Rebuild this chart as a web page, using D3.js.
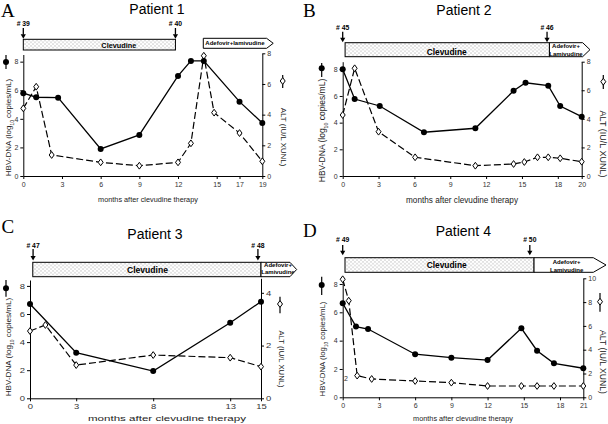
<!DOCTYPE html>
<html><head><meta charset="utf-8">
<script src="https://cdn.jsdelivr.net/npm/d3@7"></script>
<style>body{margin:0;background:#fff}svg{display:block}text{font-family:"Liberation Sans",Arial,sans-serif}</style>
</head><body>
<svg id="c" width="608" height="424"></svg>
<script>
// ---------------- data ----------------
const titles = ["Patient 1", "Patient 2", "Patient 3", "Patient 4"];
const letters = ["A", "B", "C", "D"];
const xLabel = "months after clevudine therapy";
const dnaLabel = ["HBV-DNA (log", "10", " copies/mL)"];
const altLabel = "ALT (IU/L XUNL)";
const drug1 = "Clevudine";
const drug2Short = ["Adefovir+lamivudine"];
const drug2Long = ["Adefovir+", "Lamivudine"];

// Patient 1
const p1DnaMonths = [0, 1, 2.7, 6, 9, 12, 13, 14, 17, 19];
const p1Dna = [5.79, 5.51, 5.48, 1.89, 2.87, 7.0, 8.05, 8.05, 5.2, 3.71];
const p1AltMonths = [0, 1, 2.2, 6, 9, 12, 13, 14, 14.8, 17, 19];
const p1Alt = [4.41, 5.82, 1.37, 0.89, 0.67, 0.89, 2.13, 7.84, 4.13, 2.8, 0.96];
const p1XTicks = [0, 3, 6, 9, 12, 15, 17, 19];
const p1DnaTicks = [0, 2, 4, 6, 8];
const p1AltTicks = [0, 2, 4, 6, 8];
const p1Samples = ["# 39", "# 40"];
const p1SampleMonths = [0, 11.8];
const p1Clevudine = [0, 11.8];
const p1Adefovir = [13.96, 19.38];

// Patient 2
const p2DnaMonths = [0, 1, 3.1, 6.8, 11.1, 14.3, 15.3, 17.2, 18.2, 20];
const p2Dna = [8.0, 5.77, 5.25, 3.28, 3.58, 6.39, 6.99, 6.77, 5.25, 4.45];
const p2AltMonths = [0, 1, 3, 6.06, 11.1, 14.3, 15.2, 16.3, 17.2, 18.2, 20];
const p2Alt = [4.27, 7.54, 3.1, 1.31, 0.72, 0.84, 0.98, 1.31, 1.31, 1.24, 1.0];
const p2XTicks = [0, 3, 6, 9, 12, 15, 18, 20];
const p2DnaTicks = [0, 2, 4, 6, 8];
const p2AltTicks = [0, 2, 4, 6, 8];
const p2Samples = ["# 45", "# 46"];
const p2SampleMonths = [0, 17.1];
const p2Clevudine = [0.2, 17.3];
const p2Adefovir = [17.3, 20.08];

// Patient 3
const p3DnaMonths = [0, 3, 8, 13, 15];
const p3Dna = [6.71, 3.25, 1.94, 5.38, 6.88];
const p3AltMonths = [0, 1, 3, 8, 13, 15];
const p3Alt = [2.55, 2.78, 1.26, 1.64, 1.54, 1.2];
const p3XTicks = [0, 3, 8, 13, 15];
const p3DnaTicks = [0, 2, 4, 6, 8];
const p3AltTicks = [0, 2, 4];
const p3Samples = ["# 47", "# 48"];
const p3SampleMonths = [0.2, 14.8];
const p3Clevudine = [0.18, 15];
const p3Adefovir = [15, 16.88];

// Patient 4
const p4DnaMonths = [0, 1.1, 2.1, 6, 9, 12, 14.8, 16.1, 17.5, 21];
const p4Dna = [6.64, 4.99, 4.82, 3.04, 2.8, 2.63, 4.87, 3.29, 2.4, 2.05];
const p4AltMonths = [0, 0.5, 1.2, 2.4, 6, 9, 12, 14.8, 16.1, 17.5, 21];
const p4Alt = [9.92, 8.12, 1.82, 1.54, 1.37, 1.23, 0.95, 0.95, 0.95, 0.95, 0.95];
const p4XTicks = [0, 3, 6, 9, 12, 15, 18, 21];
const p4DnaTicks = [0, 2, 4, 6, 8];
const p4AltTicks = [0, 2, 4, 6, 8, 10];
const p4Samples = ["# 49", "# 50"];
const p4SampleMonths = [0, 15.5];
const p4Clevudine = [0.19, 15.85];
const p4Adefovir = [15.85, 22.29];

// ---------------- assembly ----------------
const panelData = [
  {dnaM: p1DnaMonths, dna: p1Dna, altM: p1AltMonths, alt: p1Alt, xt: p1XTicks, yl: p1DnaTicks, yr: p1AltTicks, samples: p1Samples, sampleM: p1SampleMonths, clev: p1Clevudine, adef: p1Adefovir, adefText: drug2Short},
  {dnaM: p2DnaMonths, dna: p2Dna, altM: p2AltMonths, alt: p2Alt, xt: p2XTicks, yl: p2DnaTicks, yr: p2AltTicks, samples: p2Samples, sampleM: p2SampleMonths, clev: p2Clevudine, adef: p2Adefovir, adefText: drug2Long},
  {dnaM: p3DnaMonths, dna: p3Dna, altM: p3AltMonths, alt: p3Alt, xt: p3XTicks, yl: p3DnaTicks, yr: p3AltTicks, samples: p3Samples, sampleM: p3SampleMonths, clev: p3Clevudine, adef: p3Adefovir, adefText: drug2Long},
  {dnaM: p4DnaMonths, dna: p4Dna, altM: p4AltMonths, alt: p4Alt, xt: p4XTicks, yl: p4DnaTicks, yr: p4AltTicks, samples: p4Samples, sampleM: p4SampleMonths, clev: p4Clevudine, adef: p4Adefovir, adefText: drug2Long}
];

// layout (pixels)
const layouts = [
  {xd: [0, 15, 19], xr: [23.3, 216.7, 262.3], yLd: 8.5, yLtop: 54.5, yRd: 8, yRtop: 53.3, bottom: 176,
   clevY: [39.3, 50], adefY: [38.3, 48.3], tip: 6.6, clevTextX: 118.8, clevTextY: 47.8, clevSize: 7.3,
   adefTextDx: 0, adefTextY: [45.4], sampleY: 26, arrowY: [28, 38.8],
   titleX: 157, titleY: 14, letterX: 1, letterY: 17,
   xlabX: 148, xlabY: 202, xlabSize: 7.3, xlabLen: null, tickStretch: 1,
   leftLabX: 8.3, leftLabY: 127.5, leftLabSize: 8, rightLabX: 283.3, rightLabY: 137, rightLabSize: 7.9,
   legC: [6, 62, 55, 69], legD: [282.7, 81, 75, 88]},
  {xd: [0, 20], xr: [342.7, 581.7], yLd: 8.57, yLtop: 61.7, yRd: 8, yRtop: 61.7, bottom: 176,
   clevY: [42.7, 56.7], adefY: [42.7, 56.7], tip: 7.3, clevTextX: 446.7, clevTextY: 54.5, clevSize: 8.4,
   adefTextDx: 0, adefTextY: [48.2, 55.5], sampleY: 29.8, arrowY: [31.7, 42.2],
   titleX: 464, titleY: 15, letterX: 303, letterY: 17,
   xlabX: 462, xlabY: 203, xlabSize: 8.2, xlabLen: null, tickStretch: 1,
   leftLabX: 322.5, leftLabY: 130.5, leftLabSize: 8.5, rightLabX: 602.7, rightLabY: 144, rightLabSize: 9,
   legC: [321.7, 68.3, 63, 77], legD: [603.3, 81.7, 75, 89]},
  {xd: [0, 15], xr: [30, 261], yLd: 8.42, yLtop: 280, yRd: 4.55, yRtop: 278.3, bottom: 398.3,
   clevY: [262.3, 276.7], adefY: [262.3, 276.7], tip: 6.7, clevTextX: 147.5, clevTextY: 272.9, clevSize: 8.6,
   adefTextDx: 2.5, adefTextY: [266.5, 273.9], sampleY: 247.5, arrowY: [249, 260.5],
   titleX: 155, titleY: 239, letterX: 1.5, letterY: 233.3,
   xlabX: 167, xlabY: 421, xlabSize: 7.8, xlabLen: 158, tickStretch: 1.35,
   leftLabX: 8.3, leftLabY: 347, leftLabSize: 8.1, rightLabX: 281.7, rightLabY: 359, rightLabSize: 7.7,
   legC: [6, 288.3, 280, 296.7], legD: [280, 304, 296.7, 313.3]},
  {xd: [0, 18, 21], xr: [342.7, 560, 583.3], yLd: 8.5, yLtop: 276.9, yRd: 10, yRtop: 278.3, bottom: 397.3,
   clevY: [257.7, 272.3], adefY: [257.7, 272.3], tip: 12.7, clevTextX: 446.7, clevTextY: 268, clevSize: 8.4,
   adefTextDx: 3, adefTextY: [264.2, 271.5], sampleY: 241.8, arrowY: [245, 255.3],
   titleX: 463.3, titleY: 236, letterX: 303, letterY: 236.7,
   xlabX: 463, xlabY: 421, xlabSize: 7.3, xlabLen: null, tickStretch: 1,
   leftLabX: 322.5, leftLabY: 349, leftLabSize: 7.8, rightLabX: 602.7, rightLabY: 362, rightLabSize: 8.6,
   legC: [321.7, 285, 276.7, 295], legD: [600, 301.7, 293, 311.7]}
];

const svg = d3.select("#c");
const defs = svg.append("defs");
const pat = defs.append("pattern").attr("id", "dots").attr("patternUnits", "userSpaceOnUse")
  .attr("width", 4).attr("height", 3.6);
pat.append("rect").attr("width", 4).attr("height", 3.6).attr("fill", "#fff");
pat.append("rect").attr("x", 0.5).attr("y", 0.4).attr("width", 1).attr("height", 1).attr("fill", "#999");
pat.append("rect").attr("x", 2.5).attr("y", 2.2).attr("width", 1).attr("height", 1).attr("fill", "#999");

const diamondPath = "M0,-3.4L2.5,0L0,3.4L-2.5,0Z";
const tickColor = "#333";

panelData.forEach((d, i) => {
  const L = layouts[i];
  const g = svg.append("g");
  const x = d3.scaleLinear().domain(L.xd).range(L.xr);
  const yL = d3.scaleLinear().domain([0, L.yLd]).range([L.bottom, L.yLtop]);
  const yR = d3.scaleLinear().domain([0, L.yRd]).range([L.bottom, L.yRtop]);
  const xEnd = L.xr[L.xr.length - 1];

  // letter + title
  g.append("text").attr("x", L.letterX).attr("y", L.letterY)
    .style("font-family", "'Liberation Serif','Times New Roman',serif").style("font-size", "19px")
    .text(letters[i]);
  g.append("text").attr("x", L.titleX).attr("y", L.titleY).attr("text-anchor", "middle")
    .style("font-size", "14px").text(titles[i]);

  // treatment bars
  const cx0 = x(d.clev[0]), cx1 = x(d.clev[1]);
  g.append("rect").attr("x", cx0).attr("y", L.clevY[0]).attr("width", cx1 - cx0)
    .attr("height", L.clevY[1] - L.clevY[0]).attr("fill", "url(#dots)").attr("stroke", "#000").attr("stroke-width", 1);
  g.append("text").attr("x", L.clevTextX).attr("y", L.clevTextY).attr("text-anchor", "middle")
    .style("font-size", L.clevSize + "px").style("font-weight", "bold").text(drug1);

  const ax0 = x(d.adef[0]), ax1 = x(d.adef[1]);
  const ay0 = L.adefY[0], ay1 = L.adefY[1], aym = (ay0 + ay1) / 2;
  const shape = `M${ax0},${ay0}L${ax1},${ay0}L${ax1 + L.tip},${aym}L${ax1},${ay1}L${ax0},${ay1}Z`;
  const clipId = "clipAdef" + i;
  defs.append("clipPath").attr("id", clipId).append("path").attr("d", shape);
  g.append("path").attr("d", shape).attr("fill", "#fff").attr("stroke", "#000").attr("stroke-width", 1);
  const tg = g.append("g").attr("clip-path", `url(#${clipId})`);
  d.adefText.forEach((t, k) => {
    tg.append("text").attr("x", (ax0 + ax1) / 2 + L.adefTextDx).attr("y", L.adefTextY[k])
      .attr("text-anchor", "middle").style("font-size", "6px").style("font-weight", "bold").text(t);
  });

  // sample arrows
  d.samples.forEach((s, k) => {
    const sx = x(d.sampleM[k]);
    g.append("text").attr("x", sx).attr("y", L.sampleY).attr("text-anchor", "middle")
      .style("font-size", "6.8px").style("font-weight", "bold").text(s);
    g.append("line").attr("x1", sx).attr("x2", sx).attr("y1", L.arrowY[0]).attr("y2", L.arrowY[1] - 4)
      .attr("stroke", "#000").attr("stroke-width", 1.3);
    g.append("path").attr("d", `M${sx - 2.6},${L.arrowY[1] - 4.5}L${sx + 2.6},${L.arrowY[1] - 4.5}L${sx},${L.arrowY[1]}Z`)
      .attr("fill", "#000");
  });

  // axes
  const styleAxis = (sel) => {
    sel.selectAll("path.domain").attr("stroke", "#000").attr("stroke-width", 1);
    sel.selectAll(".tick line").attr("stroke", "#000");
    sel.selectAll(".tick text").attr("fill", tickColor).style("font-size", "7px")
      .style("font-family", "'Liberation Sans',Arial,sans-serif");
  };
  const gx = g.append("g").attr("transform", `translate(0,${L.bottom})`)
    .call(d3.axisBottom(x).tickValues(d.xt).tickFormat(d3.format("d")).tickSize(3).tickSizeOuter(0).tickPadding(3));
  styleAxis(gx);
  const gl = g.append("g").attr("transform", `translate(${L.xr[0]},0)`)
    .call(d3.axisLeft(yL).tickValues(d.yl).tickFormat(d3.format("d")).tickSize(3).tickSizeOuter(0).tickPadding(2));
  styleAxis(gl);
  const gr = g.append("g").attr("transform", `translate(${xEnd},0)`)
    .call(d3.axisRight(yR).tickValues(d.yr).tickFormat(d3.format("d")).tickSize(3).tickSizeOuter(0).tickPadding(2));
  styleAxis(gr);
  if (L.tickStretch !== 1) {
    [gx, gl, gr].forEach(a => a.selectAll(".tick text").each(function () {
      const t = d3.select(this);
      t.attr("transform", `scale(${L.tickStretch},1)`);
      const xx = +t.attr("x") || 0;
      t.attr("x", xx / L.tickStretch);
    }));
  }

  // axis titles
  const xl = g.append("text").attr("x", L.xlabX).attr("y", L.xlabY).attr("text-anchor", "middle")
    .style("font-size", L.xlabSize + "px").attr("fill", "#222").text(xLabel);
  if (L.xlabLen) xl.attr("textLength", L.xlabLen).attr("lengthAdjust", "spacingAndGlyphs");

  const ll = g.append("text").attr("transform", `translate(${L.leftLabX + L.leftLabSize * 0.35},${L.leftLabY}) rotate(-90)`)
    .attr("text-anchor", "middle").style("font-size", L.leftLabSize + "px").attr("fill", "#222");
  ll.append("tspan").text(dnaLabel[0]);
  ll.append("tspan").attr("baseline-shift", "sub").style("font-size", (L.leftLabSize * 0.6) + "px").text(dnaLabel[1]);
  ll.append("tspan").text(dnaLabel[2]);

  g.append("text").attr("transform", `translate(${L.rightLabX - L.rightLabSize * 0.35},${L.rightLabY}) rotate(90)`)
    .attr("text-anchor", "middle").style("font-size", L.rightLabSize + "px").attr("fill", "#222").text(altLabel);

  // legend glyphs
  g.append("line").attr("x1", L.legC[0]).attr("x2", L.legC[0]).attr("y1", L.legC[2]).attr("y2", L.legC[3])
    .attr("stroke", "#000").attr("stroke-width", 1.2);
  g.append("circle").attr("cx", L.legC[0]).attr("cy", L.legC[1]).attr("r", 3).attr("fill", "#000");
  g.append("line").attr("x1", L.legD[0]).attr("x2", L.legD[0]).attr("y1", L.legD[2]).attr("y2", L.legD[3])
    .attr("stroke", "#000").attr("stroke-width", 1.2);
  g.append("path").attr("transform", `translate(${L.legD[0]},${L.legD[1]})`).attr("d", diamondPath)
    .attr("fill", "#fff").attr("stroke", "#000").attr("stroke-width", 1);

  // series
  const altPts = d.altM.map((m, k) => [m, d.alt[k]]);
  const dnaPts = d.dnaM.map((m, k) => [m, d.dna[k]]);
  g.append("path").datum(altPts)
    .attr("d", d3.line().x(p => x(p[0])).y(p => yR(p[1])))
    .attr("fill", "none").attr("stroke", "#000").attr("stroke-width", 1.2).attr("stroke-dasharray", "7,3");
  g.append("path").datum(dnaPts)
    .attr("d", d3.line().x(p => x(p[0])).y(p => yL(p[1])))
    .attr("fill", "none").attr("stroke", "#000").attr("stroke-width", 1.3);
  g.selectAll(".dia").data(altPts).enter().append("path")
    .attr("transform", p => `translate(${x(p[0])},${yR(p[1])})`).attr("d", diamondPath)
    .attr("fill", "#fff").attr("stroke", "#000").attr("stroke-width", 1);
  g.selectAll(".dot").data(dnaPts).enter().append("circle")
    .attr("cx", p => x(p[0])).attr("cy", p => yL(p[1])).attr("r", 3).attr("fill", "#000");

  if (i === 3) {
    g.append("text").attr("x", 346).attr("y", 380.5).attr("text-anchor", "middle")
      .style("font-size", "7px").attr("fill", tickColor).text("2");
  }
});
</script>
</body></html>
